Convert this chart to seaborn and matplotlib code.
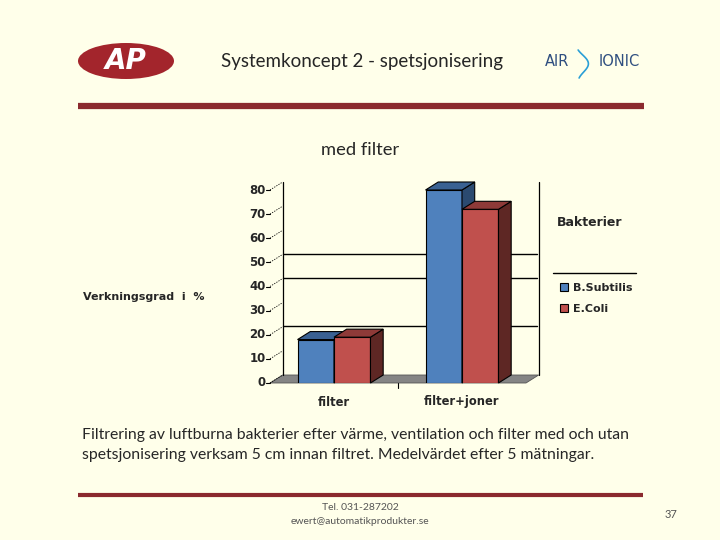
import numpy as np
import pandas as pd
import matplotlib
matplotlib.use("Agg")
import matplotlib.pyplot as plt
import matplotlib.lines as mlines
from matplotlib.patches import Polygon, Ellipse, Patch
import seaborn as sns

# data
kategorier = ["filter", "filter+joner"]
b_subtilis = [18, 80]
e_coli = [19, 72]
serier = ["B.Subtilis", "E.Coli"]
yticks = [0, 10, 20, 30, 40, 50, 60, 70, 80]

bg = "#FFFFEA"
blue = "#4F81BD"
red = "#C0504D"
blue_top, blue_side = "#3A6192", "#2B4A70"
red_top, red_side = "#8E3A38", "#5E2724"
rule = "#8B2A2E"

df = pd.DataFrame({
    "kategori": kategorier * 2,
    "bakterie": [serier[0]] * 2 + [serier[1]] * 2,
    "varde": b_subtilis + e_coli,
})

sns.set_theme(style="white")
plt.rcParams["font.family"] = ["Lato", "DejaVu Sans"]

W, H = 720, 540
fig = plt.figure(figsize=(7.2, 5.4), dpi=100, facecolor=bg)


def fx(px):
    return px / W


def fy(py):
    return 1 - py / H


# chart axes = front plane of the 3D box
ax = fig.add_axes([fx(270), fy(383), fx(256), 193 / H])
ax.set_facecolor("none")
sns.barplot(data=df, x="kategori", y="varde", hue="bakterie", palette=[blue, red],
            saturation=1, width=0.57, edgecolor="black", linewidth=0.8, ax=ax,
            legend=False)
ax.set_xlim(-0.5, 1.5)
ax.set_ylim(0, 80)
for s in ax.spines.values():
    s.set_visible(False)
ax.set_xlabel("")
ax.set_ylabel("")
ax.set_yticks([])
ax.set_xticks(range(len(kategorier)))
ax.set_xticklabels(kategorier, fontsize=8.3, fontweight="bold", family="DejaVu Sans")
ax.tick_params(axis="x", length=0, pad=9)

# depth of the 3D extrusion, px -> data units
inv = ax.transData.inverted()
p0 = inv.transform(ax.transData.transform((0, 0)))
p1 = inv.transform(ax.transData.transform((0, 0)) + np.array([12.7, 8.0]))
ddx, ddy = p1 - p0

# floor
x0, x1 = ax.get_xlim()
floor = Polygon([(x0, 0), (x1, 0), (x1 + ddx, ddy), (x0 + ddx, ddy)], closed=True,
                facecolor="#858585", edgecolor="#555555", linewidth=0.6, clip_on=False, zorder=1)
ax.add_patch(floor)

# back wall edges
ax.plot([x0 + ddx, x0 + ddx], [ddy, 80 + ddy], color="black", lw=0.9, clip_on=False, zorder=1)
ax.plot([x1 + ddx, x1 + ddx], [ddy, 80 + ddy], color="black", lw=0.9, clip_on=False, zorder=1)

# 3D tops and sides for each bar, drawn left to right so right bars cover left sides
faces = [(blue_top, blue_side), (red_top, red_side)]
allbars = []
for ci, cont in enumerate(ax.containers):
    for b in cont:
        allbars.append((b.get_x(), b, faces[ci]))
allbars.sort(key=lambda t: t[0])
for i, (bx, b, (top_c, side_c)) in enumerate(allbars):
    bw, bh = b.get_width(), b.get_height()
    z = 3 + i * 0.1
    b.set_zorder(z)
    top = Polygon([(bx, bh), (bx + bw, bh), (bx + bw + ddx, bh + ddy), (bx + ddx, bh + ddy)],
                  closed=True, facecolor=top_c, edgecolor="black", lw=0.8, clip_on=False, zorder=z + 0.01)
    side = Polygon([(bx + bw, 0), (bx + bw + ddx, ddy), (bx + bw + ddx, bh + ddy), (bx + bw, bh)],
                   closed=True, facecolor=side_c, edgecolor="black", lw=0.8, clip_on=False, zorder=z + 0.01)
    ax.add_patch(side)
    ax.add_patch(top)

# y ticks: short front tick + dotted diagonal to the back wall
for v in yticks:
    ax.plot([x0 - 0.03, x0], [v, v], color="black", lw=0.8, clip_on=False)
    ax.plot([x0, x0 + ddx], [v, v + ddy], color="black", lw=0.6, ls=(0, (1.5, 1.5)), clip_on=False)
    ax.text(x0 - 0.035, v, str(v), ha="right", va="center", fontsize=8.5,
            fontweight="bold", family="DejaVu Sans")
# category separator tick on the floor
ax.plot([0.5, 0.5], [0, -2.2], color="black", lw=0.8, clip_on=False)

# stray horizontal rules on the back wall, as on the slide
for py in [254, 278, 326]:
    fig.add_artist(mlines.Line2D([fx(283), fx(537)], [fy(py), fy(py)], color="black",
                                 lw=1.0, zorder=-1))

# legend
fig.text(fx(557), fy(222), "Bakterier", fontsize=9, fontweight="bold",
         family="DejaVu Sans", va="center")
fig.add_artist(mlines.Line2D([fx(553), fx(636)], [fy(273), fy(273)], color="black", lw=1.0))
handles = [Patch(facecolor=blue, edgecolor="black", lw=0.8),
           Patch(facecolor=red, edgecolor="black", lw=0.8)]
fig.legend(handles, serier, loc="upper left", bbox_to_anchor=(fx(550), fy(273)),
           frameon=False, handlelength=0.75, handleheight=0.75, handletextpad=0.4,
           labelspacing=0.95, prop={"size": 8, "weight": "bold", "family": "DejaVu Sans"})

fig.text(fx(83), fy(297), "Verkningsgrad  i  %", fontsize=8, fontweight="bold",
         family="DejaVu Sans", va="center")

# header
fig.add_artist(Ellipse((fx(126), fy(61)), fx(96), 36 / H, facecolor="#A3252C",
                       edgecolor="none", transform=fig.transFigure))
fig.text(fx(126), fy(61), "AP", color="white", fontsize=20, fontweight="bold",
         style="italic", family="DejaVu Sans", ha="center", va="center")
fig.text(fx(362), fy(62), "Systemkoncept 2 - spetsjonisering", fontsize=13.5,
         ha="center", va="center")
fig.text(fx(557), fy(61), "AIR", fontsize=10.5, color="#2F4F80", ha="center", va="center",
         family="DejaVu Sans")
fig.text(fx(619), fy(61), "IONIC", fontsize=10.5, color="#2F4F80", ha="center", va="center",
         family="DejaVu Sans")
t = np.linspace(0, 1, 30)
fig.add_artist(mlines.Line2D(fx(583 + 6 * np.sin(np.pi * (t * 1.6 - 0.3)) * (1 - t * 0.2)),
                             fy(50 + 28 * t), color="#2A9FD6", lw=1.2))
fig.add_artist(mlines.Line2D([fx(78), fx(644)], [fy(106), fy(106)], color=rule, lw=4.5,
                             solid_capstyle="butt"))

fig.text(fx(360), fy(150), "med filter", fontsize=13.2, ha="center", va="center")

fig.text(fx(82), fy(435), "Filtrering av luftburna bakterier efter värme, ventilation och filter med och utan",
         fontsize=11.3, va="center")
fig.text(fx(82), fy(455), "spetsjonisering verksam 5 cm innan filtret. Medelvärdet efter 5 mätningar.",
         fontsize=11.3, va="center")

# footer
fig.add_artist(mlines.Line2D([fx(78), fx(643)], [fy(495), fy(495)], color=rule, lw=3,
                             solid_capstyle="butt"))
fig.text(fx(360), fy(508), "Tel. 031-287202", fontsize=7.5, color="#555555", ha="center", va="center")
fig.text(fx(360), fy(522), "ewert@automatikprodukter.se", fontsize=7.5, color="#555555",
         ha="center", va="center")
fig.text(fx(671), fy(514), "37", fontsize=8, color="#555555", ha="center", va="center")

fig.savefig("out.png", dpi=100, facecolor=bg)
